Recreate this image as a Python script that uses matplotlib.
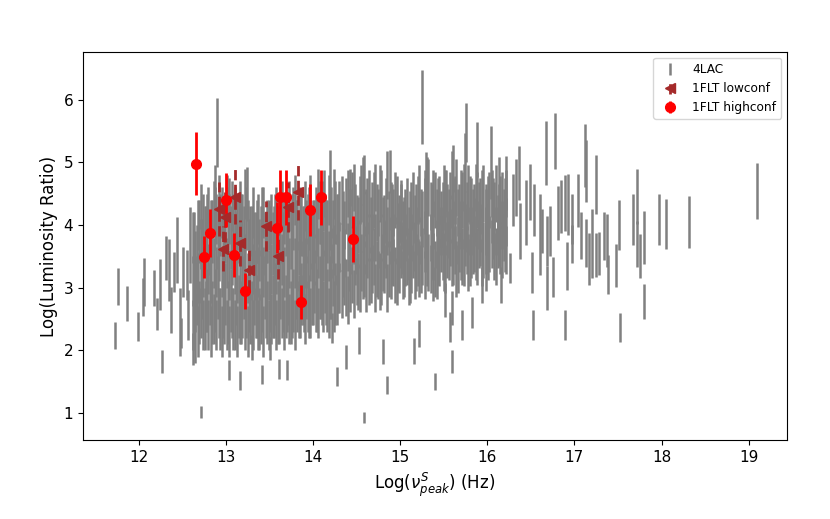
import numpy as np
import matplotlib
matplotlib.use('Agg')
import matplotlib.pyplot as plt

# ---- 4LAC: dense core, columns with a low / mid / high bar each ----
core_x = [12.62, 12.65, 12.68, 12.71, 12.74, 12.77, 12.80, 12.83, 12.86, 12.89,
          12.92, 12.95, 12.98, 13.01, 13.04, 13.07, 13.10, 13.13, 13.16, 13.19,
          13.22, 13.25, 13.28, 13.31, 13.34, 13.37, 13.40, 13.43, 13.46, 13.49,
          13.52, 13.55, 13.58, 13.61, 13.64, 13.67, 13.70, 13.73, 13.76, 13.79,
          13.82, 13.85, 13.88, 13.91, 13.94, 13.97, 14.00, 14.03, 14.06, 14.09,
          14.12, 14.15, 14.18, 14.21, 14.24, 14.27, 14.30]
core_lo = [2.4, 2.7, 2.3, 2.6, 2.4, 2.7, 2.4, 2.3, 2.5, 2.4,
           2.6, 2.3, 2.5, 2.4, 2.3, 2.6, 2.4, 2.3, 2.5, 2.6,
           2.4, 2.3, 2.5, 2.4, 2.6, 2.4, 2.5, 2.3, 2.6, 2.4,
           2.5, 2.6, 2.4, 2.5, 2.6, 2.4, 2.7, 2.5, 2.6, 2.4,
           2.7, 2.6, 2.8, 2.5, 2.7, 2.6, 2.8, 2.7, 2.6, 2.9,
           2.7, 2.8, 2.6, 2.9, 2.7, 2.8, 3.0]
core_mid = [3.1, 3.1, 3.15, 3.15, 3.25, 3.3, 3.3, 3.15, 3.4, 3.25,
            3.5, 3.25, 3.25, 3.4, 3.2, 3.45, 3.3, 3.15, 3.4, 3.35,
            3.45, 3.15, 3.2, 3.3, 3.2, 3.25, 3.2, 3.25, 3.2, 3.2,
            3.3, 3.25, 3.3, 3.25, 3.45, 3.25, 3.35, 3.4, 3.35, 3.4,
            3.35, 3.4, 3.35, 3.4, 3.4, 3.5, 3.4, 3.45, 3.55, 3.5,
            3.5, 3.4, 3.5, 3.55, 3.6, 3.45, 3.65]
core_hi = [3.8, 3.5, 4.0, 3.7, 4.1, 3.9, 4.2, 4.0, 4.3, 4.1,
           4.4, 4.2, 4.0, 4.4, 4.1, 4.3, 4.2, 4.0, 4.3, 4.1,
           4.5, 4.0, 3.9, 4.2, 3.8, 4.1, 3.9, 4.2, 3.8, 4.0,
           4.1, 3.9, 4.2, 4.0, 4.3, 4.1, 4.0, 4.3, 4.1, 4.4,
           4.0, 4.2, 3.9, 4.3, 4.1, 4.4, 4.0, 4.2, 4.5, 4.1,
           4.3, 4.0, 4.4, 4.2, 4.5, 4.1, 4.3]
core_err = 0.4

# second, offset set of core columns (longer bars)
core2_x = [12.635, 12.665, 12.695, 12.725, 12.755, 12.785, 12.815, 12.845, 12.875, 12.905,
           12.935, 12.965, 12.995, 13.025, 13.055, 13.085, 13.115, 13.145, 13.175, 13.205,
           13.235, 13.265, 13.295, 13.325, 13.355, 13.385, 13.415, 13.445, 13.475, 13.505,
           13.535, 13.565, 13.595, 13.625, 13.655, 13.685, 13.715, 13.745, 13.775, 13.805,
           13.835, 13.865, 13.895, 13.925, 13.955, 13.985, 14.015, 14.045, 14.075, 14.105,
           14.135, 14.165, 14.195, 14.225, 14.255, 14.285]
core2_a = [2.7, 2.9, 2.6, 3.0, 2.5, 2.8, 2.9, 2.6, 2.8, 3.0,
           2.5, 2.7, 2.9, 2.6, 2.8, 2.5, 2.9, 2.7, 2.6, 3.0,
           2.7, 2.8, 2.6, 2.9, 2.7, 2.5, 2.8, 3.0, 2.6, 2.8,
           2.7, 2.9, 2.6, 3.0, 2.8, 2.7, 2.9, 2.6, 2.8, 3.0,
           2.7, 2.9, 2.8, 3.0, 2.7, 2.9, 3.1, 2.8, 3.0, 2.9,
           3.1, 2.8, 3.0, 3.2, 2.9, 3.1]
core2_b = [3.7, 3.5, 3.9, 3.6, 3.8, 4.0, 3.7, 3.9, 4.1, 3.8,
           4.0, 3.7, 3.9, 4.1, 3.8, 4.0, 3.7, 3.9, 4.0, 3.8,
           4.1, 3.6, 3.8, 3.7, 3.9, 3.6, 3.8, 3.7, 3.9, 3.8,
           3.7, 4.0, 3.8, 3.9, 3.7, 4.0, 3.9, 3.8, 4.1, 3.9,
           3.7, 4.0, 3.8, 3.9, 4.1, 3.8, 3.9, 4.0, 4.2, 3.8,
           4.0, 3.9, 4.1, 3.9, 4.2, 4.0]
core2_err = 0.5

# ---- 4LAC: band from 14.3 to 16.2 ----
band_x = [14.33, 14.36, 14.40, 14.43, 14.47, 14.50, 14.54, 14.57, 14.61, 14.64,
          14.68, 14.71, 14.75, 14.78, 14.82, 14.85, 14.89, 14.92, 14.96, 14.99,
          15.03, 15.06, 15.10, 15.13, 15.17, 15.20, 15.24, 15.28, 15.31, 15.35,
          15.38, 15.42, 15.45, 15.49, 15.52, 15.56, 15.59, 15.63, 15.66, 15.70,
          15.73, 15.77, 15.80, 15.84, 15.87, 15.91, 15.94, 15.98, 16.01, 16.05,
          16.08, 16.12, 16.15, 16.19, 16.22]
band_lo = [2.9, 3.1, 2.8, 3.0, 2.9, 3.1, 3.0, 3.2, 3.0, 3.1,
           3.3, 3.0, 3.2, 3.1, 3.3, 3.0, 3.2, 3.4, 3.1, 3.3,
           3.2, 3.4, 3.1, 3.3, 3.2, 3.4, 3.3, 3.2, 3.4, 3.3,
           3.5, 3.2, 3.4, 3.5, 3.3, 3.5, 3.4, 3.6, 3.3, 3.5,
           3.4, 3.6, 3.4, 3.6, 3.5, 3.7, 3.4, 3.6, 3.5, 3.7,
           3.5, 3.7, 3.6, 3.8, 3.6]
band_mid = [3.65, 3.55, 3.65, 3.6, 3.75, 3.6, 3.7, 3.95, 3.6, 3.8,
            3.8, 3.8, 3.7, 3.8, 3.7, 3.9, 3.75, 3.8, 3.75, 3.7,
            3.6, 3.8, 3.5, 3.8, 3.65, 3.9, 3.75, 3.85, 4.05, 3.8,
            4.0, 3.7, 3.9, 3.9, 3.9, 3.85, 4.1, 4.0, 3.75, 4.0,
            4.0, 3.95, 3.9, 3.9, 4.05, 4.0, 3.95, 3.9, 3.95, 4.1,
            3.9, 3.9, 4.0, 4.0, 4.05]
band_hi = [4.4, 4.0, 4.5, 4.2, 4.6, 4.1, 4.4, 4.7, 4.2, 4.5,
           4.3, 4.6, 4.2, 4.5, 4.1, 4.8, 4.3, 4.2, 4.4, 4.1,
           4.0, 4.2, 3.9, 4.3, 4.1, 4.4, 4.2, 4.5, 4.7, 4.3,
           4.5, 4.2, 4.4, 4.3, 4.5, 4.2, 4.8, 4.4, 4.2, 4.5,
           4.6, 4.3, 4.4, 4.2, 4.6, 4.3, 4.5, 4.2, 4.4, 4.5,
           4.3, 4.1, 4.4, 4.2, 4.5]
band_err = 0.38

band2_x = [14.345, 14.38, 14.415, 14.45, 14.485, 14.52, 14.555, 14.59, 14.625, 14.66,
           14.695, 14.73, 14.765, 14.80, 14.835, 14.87, 14.905, 14.94, 14.975, 15.01,
           15.045, 15.08, 15.115, 15.15, 15.185, 15.22, 15.255, 15.29, 15.325, 15.36,
           15.395, 15.43, 15.465, 15.50, 15.535, 15.57, 15.605, 15.64, 15.675, 15.71,
           15.745, 15.78, 15.815, 15.85, 15.885, 15.92, 15.955, 15.99, 16.025, 16.06,
           16.095, 16.13, 16.165, 16.20]
band2_a = [3.3, 3.0, 3.4, 3.2, 3.5, 3.1, 3.4, 3.3, 3.6, 3.2,
           3.5, 3.3, 3.1, 3.4, 3.6, 3.3, 3.5, 3.2, 3.4, 3.6,
           3.3, 3.5, 3.2, 3.6, 3.4, 3.3, 3.5, 3.7, 3.4, 3.6,
           3.3, 3.5, 3.7, 3.4, 3.6, 3.8, 3.5, 3.3, 3.7, 3.5,
           3.8, 3.4, 3.6, 3.7, 3.5, 3.8, 3.6, 3.4, 3.7, 3.9,
           3.5, 3.8, 3.6, 3.7]
band2_b = [4.1, 4.3, 3.9, 4.4, 4.2, 4.0, 4.5, 4.1, 4.3, 4.0,
           4.4, 4.2, 4.5, 4.0, 4.3, 4.1, 4.2, 4.4, 3.9, 4.2,
           4.0, 4.3, 4.1, 4.4, 4.2, 4.5, 4.1, 4.3, 4.6, 4.2,
           4.4, 4.3, 4.1, 4.5, 4.2, 4.4, 4.3, 4.6, 4.2, 4.4,
           4.1, 4.5, 4.3, 4.2, 4.4, 4.3, 4.5, 4.2, 4.4, 4.3,
           4.5, 4.2, 4.4, 4.3]
band2_err = 0.45

# ---- 4LAC: individual sources ----
solo_x = [11.73, 11.76, 11.87, 11.99, 12.06, 12.05, 12.17, 12.21, 12.24, 12.27,
          12.31, 12.35, 12.37, 12.41, 12.44, 12.47, 12.49, 12.51, 12.55, 12.57,
          12.59, 12.62, 12.65, 12.71, 12.72, 12.90, 12.87, 13.04, 13.24, 13.41,
          14.20, 14.13, 13.04, 13.16, 13.41, 13.61, 13.70, 14.27, 14.38, 13.30,
          13.51, 14.53, 14.22, 14.59, 14.80, 14.85, 15.16, 15.22, 15.40, 15.38,
          15.51, 15.57, 15.59, 15.60, 15.71, 15.82, 15.94, 16.16, 16.26, 14.43,
          14.58, 14.88, 15.01, 15.25, 15.30, 15.53, 15.61, 15.76, 15.74, 15.88,
          16.04, 16.13, 16.22, 16.36, 16.33, 16.30, 16.37, 16.44, 16.49, 16.51,
          16.52, 16.54, 16.60, 16.63, 16.67, 16.69, 16.68, 16.72, 16.76, 16.78,
          16.81, 16.85, 16.89, 16.89, 16.91, 16.93, 16.97, 16.97, 17.04, 17.08,
          17.12, 17.13, 17.13, 17.17, 17.20, 17.25, 17.25, 17.28, 17.34, 17.37,
          17.38, 17.48, 17.51, 17.52, 17.67, 17.72, 17.72, 17.75, 17.80, 17.80,
          17.97, 18.05, 18.32, 19.09]
solo_y = [2.24, 3.02, 2.75, 2.38, 3.09, 2.85, 2.99, 2.58, 3.05, 1.82,
          3.47, 3.28, 2.64, 3.25, 3.60, 2.45, 2.28, 3.25, 3.20, 2.56,
          3.68, 2.02, 2.35, 1.02, 4.30, 5.48, 4.60, 4.40, 4.50, 4.25,
          4.70, 4.50, 1.69, 1.52, 1.62, 1.71, 1.69, 1.58, 1.90, 2.05,
          2.03, 2.16, 2.36, 0.93, 1.98, 1.45, 1.99, 2.27, 1.50, 3.06,
          2.81, 2.38, 1.82, 2.67, 2.40, 2.60, 3.04, 3.04, 3.31, 4.60,
          4.80, 4.85, 4.40, 5.89, 4.85, 4.55, 4.90, 5.47, 5.00, 5.20,
          5.00, 4.53, 4.67, 4.83, 4.60, 4.40, 3.90, 4.20, 4.53, 3.24,
          2.40, 4.24, 3.85, 3.90, 5.15, 3.75, 3.00, 3.90, 3.17, 5.34,
          4.19, 4.30, 4.35, 2.40, 3.35, 4.33, 4.10, 3.70, 4.39, 3.83,
          5.11, 4.86, 3.71, 3.46, 3.70, 4.65, 3.52, 3.55, 3.82, 3.75,
          3.21, 3.35, 4.00, 2.37, 4.09, 4.46, 3.70, 3.50, 3.80, 2.78,
          4.09, 4.01, 4.05, 4.54]
solo_err = [0.22, 0.29, 0.28, 0.23, 0.38, 0.30, 0.29, 0.26, 0.41, 0.18,
            0.35, 0.50, 0.37, 0.32, 0.53, 0.54, 0.24, 0.40, 0.40, 0.40,
            0.60, 0.25, 0.55, 0.10, 0.36, 0.55, 0.36, 0.35, 0.43, 0.35,
            0.50, 0.38, 0.16, 0.15, 0.15, 0.16, 0.16, 0.15, 0.19, 0.20,
            0.18, 0.22, 0.24, 0.09, 0.20, 0.14, 0.20, 0.22, 0.14, 0.27,
            0.27, 0.24, 0.18, 0.27, 0.24, 0.25, 0.29, 0.29, 0.24, 0.30,
            0.31, 0.34, 0.32, 0.59, 0.32, 0.33, 0.37, 0.47, 0.47, 0.44,
            0.58, 0.56, 0.43, 0.43, 0.45, 0.42, 0.45, 0.52, 0.45, 0.33,
            0.24, 0.42, 0.65, 0.35, 0.51, 0.40, 0.35, 0.40, 0.32, 0.44,
            0.43, 0.42, 0.45, 0.24, 0.38, 0.49, 0.40, 0.30, 0.42, 0.38,
            0.50, 0.49, 0.38, 0.42, 0.55, 0.47, 0.35, 0.34, 0.38, 0.42,
            0.31, 0.34, 0.40, 0.23, 0.41, 0.44, 0.37, 0.35, 0.43, 0.28,
            0.41, 0.40, 0.41, 0.45]

# ---- 1FLT low confidence ----
low_x = [12.92, 13.10, 12.99, 12.97, 13.16, 13.26, 13.46, 13.60, 13.71, 13.83]
low_y = [4.25, 4.45, 4.13, 3.62, 3.71, 3.29, 3.99, 3.50, 4.29, 4.52]
low_err = [0.43, 0.44, 0.40, 0.36, 0.37, 0.33, 0.40, 0.36, 0.40, 0.44]

# ---- 1FLT high confidence ----
high_x = [12.66, 12.75, 12.82, 13.00, 13.09, 13.22, 13.59, 13.62, 13.69, 13.86,
          13.97, 14.09, 14.46]
high_y = [4.98, 3.49, 3.87, 4.40, 3.52, 2.95, 3.96, 4.44, 4.44, 2.77,
          4.24, 4.44, 3.78]
high_err = [0.50, 0.34, 0.38, 0.43, 0.35, 0.29, 0.40, 0.44, 0.44, 0.27,
            0.42, 0.44, 0.37]

lac_x = np.concatenate([core_x, core_x, core_x, core2_x, core2_x,
                        band_x, band_x, band_x, band2_x, band2_x, solo_x])
lac_y = np.concatenate([core_lo, core_mid, core_hi, core2_a, core2_b,
                        band_lo, band_mid, band_hi, band2_a, band2_b, solo_y])
lac_err = np.concatenate([np.full(3 * len(core_x), core_err),
                          np.full(2 * len(core2_x), core2_err),
                          np.full(3 * len(band_x), band_err),
                          np.full(2 * len(band2_x), band2_err), solo_err])

fig = plt.figure(figsize=(8.3, 5.19), dpi=100)
ax = fig.add_axes([83 / 830, 1 - 440 / 519, 704 / 830, 388 / 519])

ax.errorbar(lac_x, lac_y, yerr=lac_err, fmt='none', ecolor='gray',
            elinewidth=1.8, label='4LAC')
eb = ax.errorbar(low_x, low_y, yerr=low_err, fmt='<', color='brown',
                 ecolor='brown', elinewidth=2, markersize=7, label='1FLT lowconf')
eb[2][0].set_linestyle('--')
ax.errorbar(high_x, high_y, yerr=high_err, fmt='o', color='red',
            ecolor='red', elinewidth=2, markersize=7, label='1FLT highconf')

ax.set_xlim(11.36, 19.44)
ax.set_ylim(0.57, 6.76)
ax.set_xticks(range(12, 20))
ax.set_yticks(range(1, 7))
ax.tick_params(labelsize=11)
ax.set_xlabel(r'Log($\nu^S_{peak}$) (Hz)', fontsize=12)
ax.set_ylabel('Log(Luminosity Ratio)', fontsize=12)
ax.legend(loc='upper right', fontsize=8.7)

plt.savefig('out.png', dpi=100)
